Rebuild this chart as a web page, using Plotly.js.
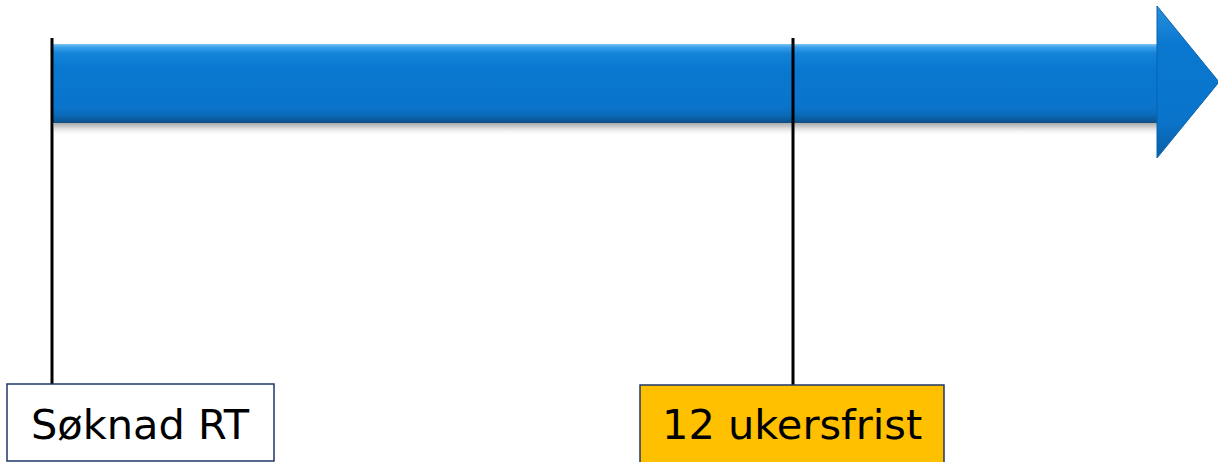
<!DOCTYPE html>
<html>
<head>
<meta charset="utf-8">
<script src="https://cdn.plot.ly/plotly-3.0.1.min.js"></script>
<style>html,body{margin:0;padding:0;background:#fff;}#chart{width:1218px;height:462px;}</style>
</head>
<body>
<div id="chart"></div>
<script>
// Milestones on the timeline (weeks from application)
const milestoneLabels = ["Søknad RT", "12 ukersfrist"];
const milestoneWeeks = [0, 12];
const milestoneFill = ["#FFFFFF", "#FFC000"];

// pixel -> axis helpers (axis spans the full canvas)
const PX0 = 52, PXW = 61.75;
const w = px => (px - PX0) / PXW;

const shadow = {
  x: [w(54), w(1160), w(1160), w(54), w(54)],
  y: [121, 121, 136, 136, 121],
  type: 'scatter', mode: 'lines', fill: 'toself', line: {width: 0},
  fillgradient: {type: 'vertical', start: 121, stop: 136,
    colorscale: [[0, '#9a9a9a'], [0.35, '#c8c8c8'], [1, 'rgba(255,255,255,0)']]},
  hoverinfo: 'skip', showlegend: false
};
const body = {
  x: [w(53), w(1159), w(1159), w(53), w(53)],
  y: [44, 44, 123, 123, 44],
  type: 'scatter', mode: 'lines', fill: 'toself', line: {width: 0},
  fillgradient: {type: 'vertical', start: 44, stop: 123,
    colorscale: [[0, '#7cc4f2'], [0.04, '#3aa0ea'], [0.12, '#1384d8'], [0.3, '#0a78d0'],
                 [0.8, '#0a74cb'], [0.9, '#0a6ab9'], [0.96, '#0b5a9c'], [1, '#134f82']]},
  hoverinfo: 'skip', showlegend: false
};
const head = {
  x: [w(1157), w(1219), w(1157), w(1157)],
  y: [6, 82, 158, 6],
  type: 'scatter', mode: 'lines', fill: 'toself', line: {width: 1, color: '#0b63ad'},
  fillgradient: {type: 'vertical', start: 6, stop: 158,
    colorscale: [[0, '#2a8fdc'], [0.25, '#0a78d0'], [0.75, '#0a74cb'], [1, '#0a5fa6']]},
  hoverinfo: 'skip', showlegend: false
};

const ticks = {
  x: [], y: [], type: 'scatter', mode: 'lines',
  line: {color: '#000000', width: 3}, hoverinfo: 'skip', showlegend: false
};
milestoneWeeks.forEach(m => { ticks.x.push(m, m, null); ticks.y.push(38, 386, null); });

const boxes = [[7, 274, 384, 461], [640, 944, 385, 464]];
const shapes = boxes.map((b, i) => ({
  type: 'rect', xref: 'x', yref: 'y', x0: w(b[0]), x1: w(b[1]), y0: b[2], y1: b[3],
  fillcolor: milestoneFill[i], line: {color: '#1f3768', width: 1.5}, layer: 'above'
}));
const annotations = boxes.map((b, i) => ({
  x: w((b[0] + b[1]) / 2), y: 424, xref: 'x', yref: 'y',
  text: milestoneLabels[i], showarrow: false, xanchor: 'center', yanchor: 'middle',
  font: {family: 'DejaVu Sans', size: 41.5, color: '#000000'}
}));

Plotly.newPlot('chart', [shadow, body, head, ticks], {
  width: 1218, height: 462,
  margin: {l: 0, r: 0, t: 0, b: 0},
  paper_bgcolor: '#ffffff', plot_bgcolor: '#ffffff',
  xaxis: {range: [w(0), w(1218)], visible: false, fixedrange: true},
  yaxis: {range: [462, 0], visible: false, fixedrange: true},
  shapes: shapes, annotations: annotations, showlegend: false
}, {staticPlot: true, displayModeBar: false});
</script>
</body>
</html>
